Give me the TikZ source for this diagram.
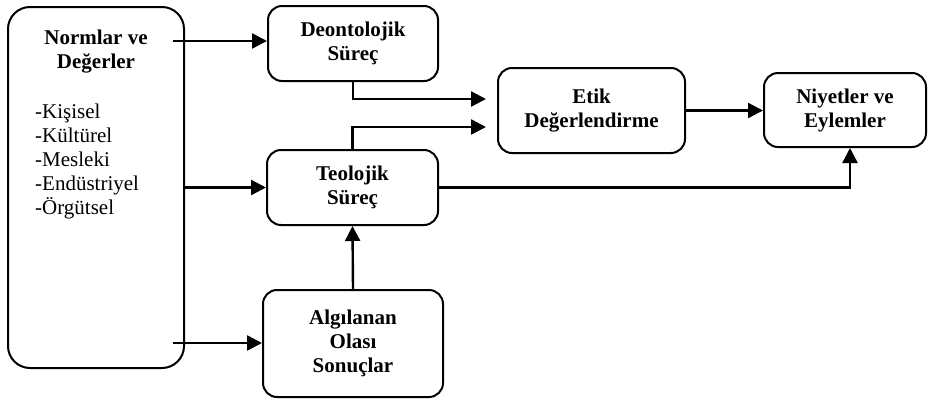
\documentclass[tikz,border=0pt]{standalone}
\usepackage{fontspec}
\setmainfont{Liberation Serif}
\usetikzlibrary{arrows.meta,calc}
\begin{document}
\begin{tikzpicture}[x=1pt,y=-1pt,
  box/.style={draw,line width=2pt,rounded corners=14pt,align=center,
    font=\bfseries\fontsize{21}{24}\selectfont,inner sep=0pt},
  flow/.style={line width=2.4pt,-{Triangle[length=15pt,width=15pt]}}]
\useasboundingbox (0,0) rectangle (928,399);

% left column: norms and values
\node[box,rounded corners=22pt,minimum width=176pt,minimum height=361pt] (norm) at (96,187.5) {};
\node[font=\bfseries\fontsize{21}{24}\selectfont,align=center] (normtitle) at (96,51.5) {Normlar ve\\Değerler};
\node[font=\fontsize{21}{24}\selectfont,align=left,anchor=west,inner sep=0pt] (normlist) at (35,161.3)
  {-Kişisel\\-Kültürel\\-Mesleki\\-Endüstriyel\\-Örgütsel};

% process boxes
\node[box,minimum width=170pt,minimum height=75pt] (deon) at (353,43.5) {Deontolojik\\Süreç};
\node[box,minimum width=171pt,minimum height=75pt] (teo) at (352.5,187.5) {Teolojik\\Süreç};
\node[box,minimum width=180pt,minimum height=107pt] (alg) at (353,343.5) {Algılanan\\Olası\\Sonuçlar};
\node[box,minimum width=187pt,minimum height=85pt] (etik) at (591.5,110.5) {Etik\\Değerlendirme};
\node[box,minimum width=162pt,minimum height=74pt] (niy) at (845,110) {Niyetler ve\\Eylemler};

% arrow start points inside the left box
\coordinate (n1) at (173,41);
\coordinate (n3) at (173,343);

% connectors
\draw[flow] (n1) -- (deon.west |- n1);
\draw[flow] (norm.east) -- (teo.west);
\draw[flow] (n3) -- (alg.west |- n3);
\draw[flow,shorten >=11pt] (deon.south) |- ($(etik.west)+(0,-11.5)$);
\draw[flow,shorten >=11pt] (teo.north) |- ($(etik.west)+(0,16.5)$);
\draw[flow] (etik.east) -- (niy.west |- etik.east);
\draw[flow] (teo.east) -| ($(niy.south)+(5,0)$);
\draw[flow] (alg.north) -- (teo.south);
\end{tikzpicture}
\end{document}
